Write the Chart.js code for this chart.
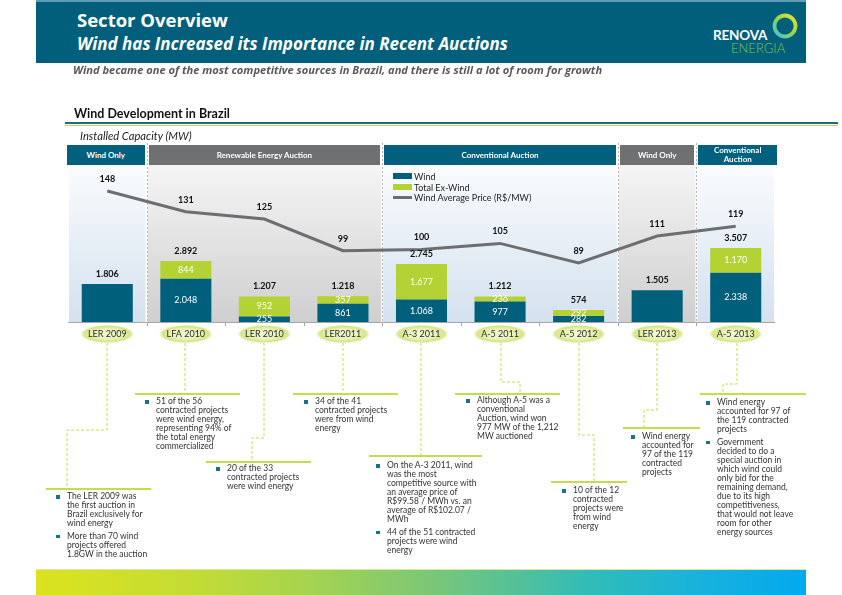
<!DOCTYPE html>
<html>
<head>
<meta charset="utf-8">
<title>Sector Overview - Wind Development in Brazil</title>
<script src="https://cdn.jsdelivr.net/npm/chart.js@4.4.1/dist/chart.umd.min.js"></script>
<style>
  html, body { margin: 0; padding: 0; background: #fff; }
  body {
    width: 842px; height: 595px; position: relative; overflow: hidden;
    font-family: Lato, 'Open Sans', sans-serif; color: #333;
  }
  .abs { position: absolute; white-space: nowrap; }
  #chart { position: absolute; left: 0; top: 0; }
  #overlay { position: absolute; left: 0; top: 0; }

  /* header */
  #band {
    left: 36px; top: 0; width: 770px; height: 63px; box-sizing: border-box;
    background: #015f7c; border-top: 2px solid #5e9db4;
  }
  .os { font-family: 'Open Sans', Lato, sans-serif; }
  #title { left: 77px; top: 10.6px; font-size: 18.5px; line-height: 18.5px; font-weight: 700; color: #fff; }
  #subtitle { left: 77px; top: 35px; font-size: 17px; line-height: 17px; font-weight: 700; font-style: italic; color: #fff; }
  #renova { left: 713px; top: 29px; font-size: 13.5px; line-height: 13.5px; font-weight: 700; color: #fff; letter-spacing: -0.2px; }
  #energia { left: 731px; top: 42px; font-size: 13px; line-height: 13px; font-weight: 300; color: #7cc644; }
  #tagline { left: 73px; top: 64.2px; font-size: 11.1px; line-height: 11.1px; font-weight: 700; font-style: italic; color: #5a5a5a; }

  #heading { left: 74px; top: 108px; font-size: 12.5px; line-height: 12.5px; font-weight: 700; color: #111; }
  #rule1 { left: 65px; top: 122px; width: 773px; height: 2px; background: #1d6b86; }
  #rule2 { left: 65px; top: 124.5px; width: 773px; height: 1.5px; background: #c3d94a; }
  #units { left: 80px; top: 129.5px; font-size: 11.2px; line-height: 11.2px; font-style: italic; color: #222; }

  .group {
    position: absolute; top: 145px; height: 20px; display: flex; align-items: center; justify-content: center;
    color: #fff; font-size: 8px; line-height: 9px; font-weight: 700; text-align: center; white-space: pre-line;
  }
  .group.teal { background: #00607e; }
  .group.gray { background: #6f7072; }

  #legend { left: 393px; top: 171px; font-size: 9px; color: #222; }
  #legend .row { display: flex; align-items: center; height: 10.7px; }
  #legend .sw { display: inline-block; width: 19px; margin-right: 2px; }

  .note { position: absolute; font-size: 8.5px; line-height: 9px; color: #333; white-space: nowrap; }
  .note .item { position: relative; margin-bottom: 3.5px; }
  .note .item::before {
    content: ''; position: absolute; left: -11px; top: 3px; width: 3.5px; height: 3.5px; background: #1e6f8c;
  }

  #footer {
    left: 36px; top: 569px; width: 770px; height: 26px; box-sizing: border-box;
    border-top: 1px solid #d7ea9a;
    background: linear-gradient(90deg, #dce31e 0%, #c4dc34 20%, #a6d44e 35%, #7ec874 50%, #55c198 62%, #31bcb8 72%, #18b2dc 86%, #02a9ef 100%);
  }
</style>
</head>
<body>
<canvas id="chart" width="842" height="595"></canvas>

<div id="band" class="abs"></div>
<div id="title" class="abs os">Sector Overview</div>
<div id="subtitle" class="abs os">Wind has Increased its Importance in Recent Auctions</div>
<div id="renova" class="abs">RENOVA</div>
<div id="energia" class="abs">ENERGIA</div>
<svg class="abs" style="left:770px; top:12px" width="30" height="30">
  <defs>
    <linearGradient id="ring" x1="1" y1="0" x2="0" y2="1">
      <stop offset="0" stop-color="#e4e62c"/>
      <stop offset="0.5" stop-color="#9bd24a"/>
      <stop offset="1" stop-color="#3cc3e6"/>
    </linearGradient>
  </defs>
  <circle cx="15" cy="14" r="10.5" fill="none" stroke="url(#ring)" stroke-width="3.8"/>
</svg>
<div id="tagline" class="abs os">Wind became one of the most competitive sources in Brazil, and there is still a lot of room for growth</div>

<div id="heading" class="abs">Wind Development in Brazil</div>
<div id="rule1" class="abs"></div>
<div id="rule2" class="abs"></div>
<div id="units" class="abs">Installed Capacity (MW)</div>

<div id="legend" class="abs">
  <div class="row"><span class="sw" style="height:6px; background:#005f7b"></span>Wind</div>
  <div class="row"><span class="sw" style="height:6px; background:#b4d234"></span>Total Ex-Wind</div>
  <div class="row"><span class="sw" style="height:2.5px; background:#6d6e71"></span>Wind Average Price (R$/MW)</div>
</div>

<svg id="overlay" width="842" height="595"></svg>

<div id="footer" class="abs"></div>

<script>
// ── Chart data ───────────────────────────────────────────
const auctions   = ['LER 2009', 'LFA 2010', 'LER 2010', 'LER2011', 'A-3 2011', 'A-5 2011', 'A-5 2012', 'LER 2013', 'A-5 2013'];
const windMW     = [1806, 2048, 255, 861, 1068, 977, 282, 1505, 2338];
const exWindMW   = [null, 844, 952, 357, 1677, 236, 292, null, 1170];
const totalMW    = [1806, 2892, 1207, 1218, 2745, 1212, 574, 1505, 3507];
const windPrice  = [148, 131, 125, 99, 100, 105, 89, 111, 119];

// auction groups shown as header boxes over the chart
const groupLabels = ['Wind Only', 'Renewable Energy Auction', 'Conventional Auction', 'Wind Only', 'Conventional\nAuction'];
const groupSpans  = [[0, 0], [1, 3], [4, 6], [7, 7], [8, 8]];
const groupTones  = ['teal', 'gray', 'teal', 'gray', 'teal'];

// ── Notes under the timeline ─────────────────────────────
const notes = [
    { x: 67,  y: 492, items: [['The LER 2009 was', 'the first auction in', 'Brazil exclusively for', 'wind energy'],
                              ['More than 70 wind', 'projects offered', '1.8GW in the auction']] },
    { x: 156, y: 397, items: [['51 of the 56', 'contracted projects', 'were wind energy,', 'representing 94% of', 'the total energy', 'commercialized']] },
    { x: 227, y: 464, items: [['20 of the 33', 'contracted projects', 'were wind energy']] },
    { x: 315, y: 397, items: [['34 of the 41', 'contracted projects', 'were from wind', 'energy']] },
    { x: 387, y: 461, items: [['On the A-3 2011, wind', 'was the most', 'competitive source with', 'an average price of', 'R$99.58 / MWh vs. an', 'average of R$102.07 /', 'MWh'],
                              ['44 of the 51 contracted', 'projects were wind', 'energy']] },
    { x: 477, y: 396, items: [['Although A-5 was a', 'conventional', 'Auction, wind won', '977 MW of the 1,212', 'MW auctioned']] },
    { x: 573, y: 486, items: [['10 of the 12', 'contracted', 'projects were', 'from wind', 'energy']] },
    { x: 642, y: 432, items: [['Wind energy', 'accounted for', '97 of the 119', 'contracted', 'projects']] },
    { x: 717, y: 398, items: [['Wind energy', 'accounted for 97 of', 'the 119 contracted', 'projects'],
                              ['Government', 'decided to do a', 'special auction in', 'which wind could', 'only bid for the',
                               'remaining demand,', 'due to its high', 'competitiveness,', 'that would not leave', 'room for other', 'energy sources']] },
];

// connector paths from each label pill down to its note
const connectors = [
    { path: [[107, 343], [107, 430], [67, 430], [67, 489]],   rule: [46, 151, 489] },
    { path: [[185, 343], [185, 394]],                         rule: [135, 240, 394] },
    { path: [[264, 343], [264, 438], [252, 438], [252, 462]], rule: [206, 311, 462] },
    { path: [[343, 343], [343, 394]],                         rule: [293, 398, 394] },
    { path: [[421, 343], [421, 456]],                         rule: [369, 482, 456] },
    { path: [[501, 343], [501, 382], [520, 382], [520, 394]], rule: [455, 560, 394] },
    { path: [[579, 343], [579, 435], [594, 435], [594, 482]], rule: [551, 627, 482] },
    { path: [[657, 343], [657, 410], [644, 410], [644, 428]], rule: [623, 700, 428] },
    { path: [[737, 343], [737, 384], [723, 384], [723, 394]], rule: [700, 806, 394] },
];

const TEAL  = '#005f7b';
const GREEN = '#b4d234';
const FONT  = "Lato, 'Open Sans', sans-serif";

// 1806 -> "1.806" (pt-BR thousands separator)
const fmt = (v) => v >= 1000 ? Math.floor(v / 1000) + '.' + String(v % 1000).padStart(3, '0') : String(v);

// left edge of every category, plus the right edge of the last one
function categoryEdges(chart) {
    const x = chart.scales.x;
    const a = chart.chartArea;
    const edges = [a.left];
    for (let i = 1; i < auctions.length; i++) {
        edges.push((x.getPixelForValue(i - 1) + x.getPixelForValue(i)) / 2);
    }
    edges.push(a.right);
    return edges;
}

// ── Section backgrounds + dotted separators ──────────────
const sectionPlugin = {
    id: 'sections',
    beforeDatasetsDraw(chart) {
        const { ctx, chartArea: a } = chart;
        const edges = categoryEdges(chart);
        const top = a.top - 3;

        ctx.save();
        groupSpans.forEach(([from, to], i) => {
            const x0 = edges[from] + 1;
            const x1 = edges[to + 1] - 1;
            const grad = ctx.createLinearGradient(0, top, 0, a.bottom);
            if (groupTones[i] === 'gray') {
                grad.addColorStop(0, '#f5f5f5');
                grad.addColorStop(1, '#cfcfcf');
            } else {
                grad.addColorStop(0, '#fafcfe');
                grad.addColorStop(1, '#d4e1ee');
            }
            ctx.fillStyle = grad;
            ctx.fillRect(x0, top, x1 - x0, a.bottom - top);
        });

        ctx.strokeStyle = '#b4b4b4';
        ctx.lineWidth = 1;
        ctx.setLineDash([2, 2]);
        groupSpans.slice(1).forEach(([from]) => {
            const xs = Math.round(edges[from]) + 0.5;
            ctx.beginPath();
            ctx.moveTo(xs, a.top - 25);
            ctx.lineTo(xs, a.bottom);
            ctx.stroke();
        });
        ctx.restore();
    }
};

// ── Axis, label pills and value labels ───────────────────
const labelPlugin = {
    id: 'labels',
    afterDraw(chart) {
        const { ctx, chartArea: a, scales: { x } } = chart;
        const edges = categoryEdges(chart);

        ctx.save();
        // axis line + ticks between categories
        ctx.strokeStyle = '#a6a6a6';
        ctx.lineWidth = 1;
        ctx.beginPath();
        ctx.moveTo(a.left, a.bottom + 0.5);
        ctx.lineTo(a.right, a.bottom + 0.5);
        for (let i = 1; i < edges.length - 1; i++) {
            const xs = Math.round(edges[i]) + 0.5;
            ctx.moveTo(xs, a.bottom);
            ctx.lineTo(xs, a.bottom + 4);
        }
        ctx.stroke();

        // category labels on soft green pills
        const cy = a.bottom + 12;
        auctions.forEach((label, i) => {
            const cx = x.getPixelForValue(i);
            ctx.save();
            ctx.translate(cx, cy);
            ctx.scale(1, 0.34);
            const g = ctx.createRadialGradient(0, 0, 0, 0, 0, 27);
            g.addColorStop(0, '#f6f9dc');
            g.addColorStop(0.55, '#eaf1b6');
            g.addColorStop(0.85, '#d6e585');
            g.addColorStop(1, 'rgba(214, 229, 133, 0)');
            ctx.fillStyle = g;
            ctx.beginPath();
            ctx.arc(0, 0, 27, 0, Math.PI * 2);
            ctx.fill();
            ctx.restore();

            ctx.fillStyle = '#2a2a2a';
            ctx.font = `9px ${FONT}`;
            ctx.textAlign = 'center';
            ctx.textBaseline = 'middle';
            ctx.fillText(label, cx, cy);
        });

        // values inside the stacked segments (single-segment bars only get the total)
        ctx.font = `9px ${FONT}`;
        ctx.fillStyle = '#fff';
        [0, 1].forEach((d) => {
            const meta = chart.getDatasetMeta(d);
            const values = chart.data.datasets[d].data;
            meta.data.forEach((bar, i) => {
                if (values[i] == null || exWindMW[i] == null) return;
                ctx.fillText(fmt(values[i]), bar.x, (bar.y + bar.base) / 2);
            });
        });

        // totals above the bars
        ctx.font = `bold 9px ${FONT}`;
        ctx.fillStyle = '#111';
        const barsTop = chart.getDatasetMeta(1).data;
        const barsBase = chart.getDatasetMeta(0).data;
        totalMW.forEach((v, i) => {
            const top = exWindMW[i] == null ? barsBase[i].y : barsTop[i].y;
            ctx.fillText(fmt(v), barsBase[i].x, top - 10);
        });

        // price labels above the line
        chart.getDatasetMeta(2).data.forEach((pt, i) => {
            ctx.fillText(String(windPrice[i]), pt.x, pt.y - 12);
        });
        ctx.restore();
    }
};

// ── Chart ────────────────────────────────────────────────
const chart = new Chart(document.getElementById('chart'), {
    type: 'bar',
    data: {
        labels: auctions,
        datasets: [
            {
                label: 'Wind',
                data: windMW,
                backgroundColor: TEAL,
                stack: 'mw',
                order: 2,
            },
            {
                label: 'Total Ex-Wind',
                data: exWindMW,
                backgroundColor: GREEN,
                stack: 'mw',
                order: 2,
            },
            {
                type: 'line',
                label: 'Wind Average Price (R$/MW)',
                data: windPrice,
                yAxisID: 'y2',
                borderColor: '#6d6e71',
                borderWidth: 3,
                pointRadius: 0,
                tension: 0,
                order: 1,
            }
        ]
    },
    options: {
        responsive: false,
        animation: false,
        devicePixelRatio: 1,
        layout: { padding: { left: 68, right: 67, top: 168, bottom: 273 } },
        datasets: { bar: { categoryPercentage: 1, barPercentage: 0.65, borderWidth: 0 } },
        scales: {
            x: { display: false, stacked: true, offset: true },
            y: { display: false, stacked: true, min: 0, max: 7300 },
            y2: { display: false, min: 40.6, max: 166.8 },
        },
        plugins: {
            legend: { display: false },
            tooltip: { enabled: false },
        },
    },
    plugins: [sectionPlugin, labelPlugin],
});

// ── Group header boxes, placed from the category scale ───
const edges = categoryEdges(chart);
groupSpans.forEach(([from, to], i) => {
    const left = edges[from] + (from === 0 ? -1 : 2);
    const right = edges[to + 1] + (to === auctions.length - 1 ? 2 : -2);
    const box = document.createElement('div');
    box.className = 'group ' + groupTones[i];
    box.style.left = left + 'px';
    box.style.width = (right - left) + 'px';
    box.textContent = groupLabels[i];
    document.body.appendChild(box);
});

// ── Connectors and notes ─────────────────────────────────
const svg = document.getElementById('overlay');
const NS = 'http://www.w3.org/2000/svg';
connectors.forEach((c) => {
    const line = document.createElementNS(NS, 'polyline');
    line.setAttribute('points', c.path.map((p) => p.join(',')).join(' '));
    line.setAttribute('fill', 'none');
    line.setAttribute('stroke', '#c6dc4c');
    line.setAttribute('stroke-width', '1');
    line.setAttribute('stroke-dasharray', '3 2');
    svg.appendChild(line);

    const [x0, x1, y] = c.rule;
    const rule = document.createElementNS(NS, 'line');
    rule.setAttribute('x1', x0);
    rule.setAttribute('x2', x1);
    rule.setAttribute('y1', y);
    rule.setAttribute('y2', y);
    rule.setAttribute('stroke', '#c6dc4c');
    rule.setAttribute('stroke-width', '2');
    svg.appendChild(rule);
});

notes.forEach((n) => {
    const div = document.createElement('div');
    div.className = 'note';
    div.style.left = n.x + 'px';
    div.style.top = n.y + 'px';
    n.items.forEach((lines) => {
        const item = document.createElement('div');
        item.className = 'item';
        item.innerHTML = lines.join('<br>');
        div.appendChild(item);
    });
    document.body.appendChild(div);
});
</script>
</body>
</html>
